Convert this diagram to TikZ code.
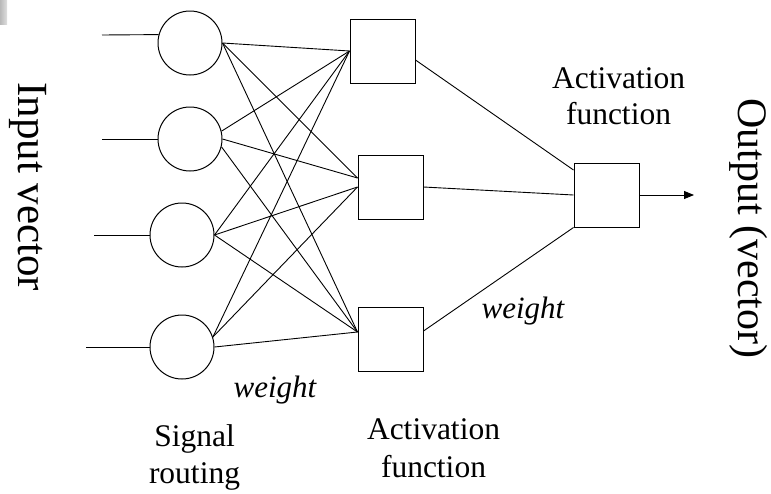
\documentclass[tikz,border=0pt]{standalone}
\usepackage{fontspec}
\setmainfont{Liberation Serif}
\usetikzlibrary{arrows.meta}
\begin{document}
\begin{tikzpicture}[x=1pt,y=-1pt,
  neuron/.style={draw,circle,line width=1pt,minimum size=64pt,inner sep=0pt},
  unit/.style={draw,rectangle,line width=1pt,minimum width=65pt,minimum height=64pt,inner sep=0pt},
  wire/.style={line width=0.9pt},
  lbl/.style={inner sep=0pt,font=\fontsize{31.5}{38}\selectfont,anchor=base},
  wlbl/.style={inner sep=0pt,font=\fontsize{31}{37}\selectfont\itshape,anchor=base},
  side/.style={inner sep=0pt,rotate=-90,anchor=base west}]
\useasboundingbox (0,0) rectangle (771,493);
\shade[left color=gray!55,right color=gray!25] (0,0) rectangle (7,24);
% input neurons
\node[neuron] (c1) at (190,43) {};
\node[neuron] (c2) at (190,139) {};
\node[neuron] (c3) at (182,235) {};
\node[neuron] (c4) at (182,347) {};
% hidden units
\node[unit] (s1) at (382.5,51) {};
\node[unit] (s2) at (390.5,187) {};
\node[unit] (s3) at (390.5,339) {};
% output unit
\node[unit] (s4) at (606.5,195) {};
% input lines
\coordinate (in1) at (102,35);
\coordinate (in2) at (102,139);
\coordinate (in3) at (94,235);
\coordinate (in4) at (86,347);
\draw[wire] (in1) -- (c1.165.5);
\draw[wire] (in2) -- (c2.west);
\draw[wire] (in3) -- (c3.west);
\draw[wire] (in4) -- (c4.west);
% connections to hidden units
\draw[wire] (c1.east) -- (s1.west);
\draw[wire] (c1.east) -- ([yshift=9pt]s2.west);
\draw[wire] (c1.east) -- ([yshift=7pt]s3.west);
\draw[wire] (c2.14) -- (s1.west);
\draw[wire] (c2.east) -- ([yshift=9pt]s2.west);
\draw[wire] (c2.-14) -- ([yshift=7pt]s3.west);
\draw[wire] (c3.east) -- (s1.west);
\draw[wire] (c3.east) -- (s2.west);
\draw[wire] (c3.east) -- ([yshift=7pt]s3.west);
\draw[wire] (c4.18) -- (s1.west);
\draw[wire] (c4.18) -- (s2.west);
\draw[wire] (c4.east) -- ([yshift=7pt]s3.west);
% connections to output unit
\draw[wire] ([yshift=-9pt]s1.east) -- ([yshift=25pt]s4.west);
\draw[wire] (s2.east) -- (s4.west);
\draw[wire] ([yshift=8pt]s3.east) -- (s4.south west);
\coordinate (out) at (694,195);
\draw[wire,-{Triangle[length=10pt,width=8pt]}] (s4.east) -- (out);
% labels
\node[side,font=\fontsize{43}{50}\selectfont] (inlbl) at (18,82) {Input vector};
\node[side,font=\fontsize{42}{50}\selectfont] (outlbl) at (738,98) {Output (vector)};
\node[lbl] (acttop1) at (618.5,88) {Activation};
\node[lbl] (acttop2) at (618.5,124) {function};
\node[lbl] (actbot1) at (433.5,439) {Activation};
\node[lbl] (actbot2) at (433.5,477) {function};
\node[lbl] (sig1) at (194.5,446) {Signal};
\node[lbl] (sig2) at (194.5,483) {routing};
\node[wlbl] (w1) at (275,397) {weight};
\node[wlbl] (w2) at (523,318) {weight};
\end{tikzpicture}
\end{document}
